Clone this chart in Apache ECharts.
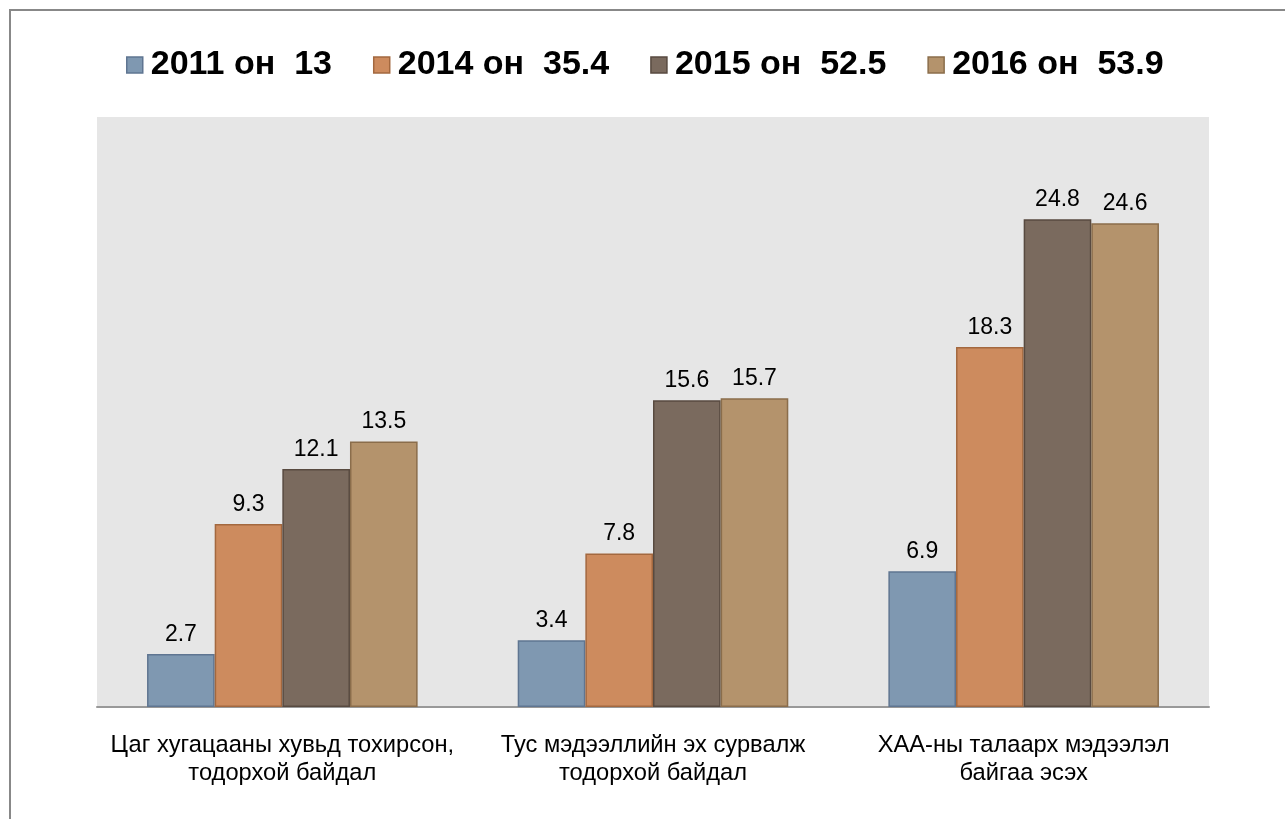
<!DOCTYPE html>
<html>
<head>
<meta charset="utf-8">
<script src="https://cdn.jsdelivr.net/npm/echarts@6/dist/echarts.min.js"></script>
<style>
  html, body { margin: 0; padding: 0; background: #fff; }
  #chart { width: 1285px; height: 819px; }
</style>
</head>
<body>
<div id="chart"></div>
<script>
// Survey categories (x axis)
const categories = [
  'Цаг хугацааны хувьд тохирсон,\nтодорхой байдал',
  'Тус мэдээллийн эх сурвалж\nтодорхой байдал',
  'ХАА-ны талаарх мэдээлэл\nбайгаа эсэх'
];
// Survey years and their totals shown in the legend
const years = ['2011 он', '2014 он', '2015 он', '2016 он'];
const totals = ['13', '35.4', '52.5', '53.9'];
// Values per year, one per category
const values2011 = [2.7, 3.4, 6.9];
const values2014 = [9.3, 7.8, 18.3];
const values2015 = [12.1, 15.6, 24.8];
const values2016 = [13.5, 15.7, 24.6];

const seriesValues = [values2011, values2014, values2015, values2016];
const fills = ['#7f98b1', '#cd8b5e', '#7a6a5e', '#b4936c'];
const strokes = ['#5f7591', '#a3683f', '#584a40', '#8a6d4b'];

const chart = echarts.init(document.getElementById('chart'), null, { renderer: 'canvas' });

const series = years.map((y, i) => ({
  name: y + '  ' + totals[i],
  type: 'bar',
  data: seriesValues[i],
  barGap: '0%',
  barCategoryGap: '27%',
  itemStyle: { color: fills[i], borderColor: strokes[i], borderWidth: 1.5 },
  label: {
    show: true,
    position: 'top',
    distance: 8,
    fontFamily: 'Liberation Sans',
    fontSize: 23,
    color: '#000'
  },
  emphasis: { disabled: true }
}));

chart.setOption({
  animation: false,
  backgroundColor: '#fff',
  graphic: [{
    type: 'rect',
    shape: { x: 10, y: 10, width: 1400, height: 900 },
    style: { fill: 'none', stroke: '#888', lineWidth: 2 },
    silent: true,
    z: -1
  }],
  legend: {
    top: 48,
    left: 126,
    padding: 0,
    itemWidth: 16,
    itemHeight: 16,
    itemGap: 41,
    icon: 'rect',
    textStyle: {
      fontFamily: 'Liberation Sans',
      fontWeight: 'bold',
      fontSize: 34,
      color: '#000',
      padding: [0, 0, 0, 3]
    },
    data: series.map((s, i) => ({
      name: s.name,
      itemStyle: { color: fills[i], borderColor: strokes[i], borderWidth: 1.5 }
    }))
  },
  grid: {
    left: 97,
    right: 76,
    top: 117,
    bottom: 112,
    show: true,
    backgroundColor: '#e6e6e6',
    borderWidth: 0
  },
  xAxis: {
    type: 'category',
    data: categories,
    axisLine: { show: true, lineStyle: { color: '#999', width: 2 } },
    axisTick: { show: false },
    axisLabel: {
      fontFamily: 'Liberation Sans',
      fontSize: 23.7,
      lineHeight: 28,
      color: '#000',
      margin: 24,
      interval: 0,
      align: 'center'
    }
  },
  yAxis: {
    type: 'value',
    min: 0,
    max: 30,
    show: false,
    splitLine: { show: false }
  },
  series: series
});
</script>
</body>
</html>
